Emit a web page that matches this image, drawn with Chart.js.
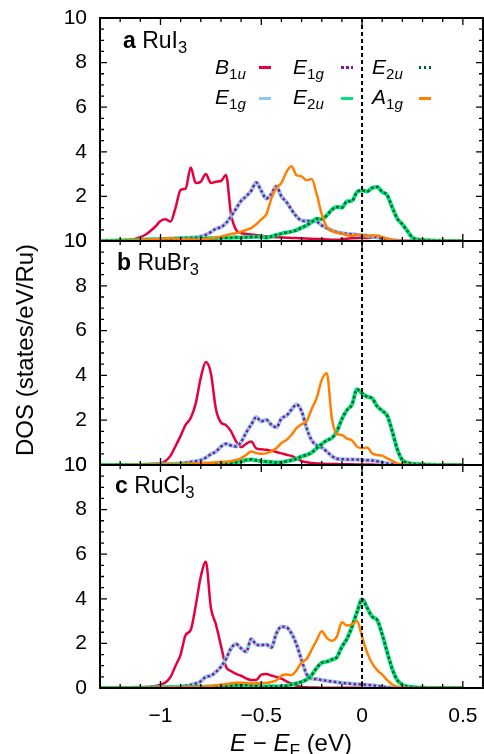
<!DOCTYPE html>
<html lang="en">
<head>
<meta charset="UTF-8">
<title>DOS – RuI3, RuBr3, RuCl3</title>
<style>
  body { margin: 0; background: #fff; font-family: 'Liberation Sans', Arial, sans-serif; }
  #wrap { position: relative; width: 484px; height: 754px; overflow: hidden; }
  canvas { position: absolute; left: 0; }
  .txt { position: absolute; white-space: nowrap; line-height: 1; color: #000; }
  .lab { font-size: 23px; }
  .key { font-size: 21px; }
  .title { font-size: 24px; }
  sub { font-size: 0.72em; position: relative; top: 0.3em; vertical-align: baseline; line-height: 0; }
  .sw { position: absolute; width: 12px; height: 3px; }
</style>
</head>
<body>
<div id="wrap">
  <canvas id="pa" width="484" height="283" style="top:-12px"></canvas>
  <canvas id="pb" width="484" height="284" style="top:211px"></canvas>
  <canvas id="pc" width="484" height="319" style="top:435px"></canvas>

  <div class="txt lab" style="left:123px; top:29px"><b>a</b> RuI<sub>3</sub></div>
  <div class="txt lab" style="left:117px; top:251px"><b>b</b> RuBr<sub>3</sub></div>
  <div class="txt lab" style="left:115px; top:474px"><b>c</b> RuCl<sub>3</sub></div>

  <!-- legend -->
  <div class="txt key" style="left:215px; top:56px"><i>B</i><sub>1<i>u</i></sub></div>
  <div class="sw" style="left:259px; top:66px; background:#e6003e"></div>
  <div class="txt key" style="left:293px; top:56px"><i>E</i><sub>1<i>g</i></sub></div>
  <div class="sw" style="left:341px; top:66px; background:repeating-linear-gradient(90deg,#86198f 0 2.5px,transparent 2.5px 5px)"></div>
  <div class="txt key" style="left:372px; top:56px"><i>E</i><sub>2<i>u</i></sub></div>
  <div class="sw" style="left:419px; top:66px; background:repeating-linear-gradient(90deg,#00602c 0 2.5px,transparent 2.5px 5px)"></div>
  <div class="txt key" style="left:215px; top:86px"><i>E</i><sub>1<i>g</i></sub></div>
  <div class="sw" style="left:259px; top:97px; background:#8fc8ee"></div>
  <div class="txt key" style="left:293px; top:86px"><i>E</i><sub>2<i>u</i></sub></div>
  <div class="sw" style="left:341px; top:97px; background:#00e27a"></div>
  <div class="txt key" style="left:372px; top:86px"><i>A</i><sub>1<i>g</i></sub></div>
  <div class="sw" style="left:419px; top:97px; background:#ff8000"></div>

  <div class="txt title" style="left:25px; top:350px; transform:translate(-50%,-50%) rotate(-90deg)">DOS (states/eV/Ru)</div>
  <div class="txt title" style="left:291px; top:731px; transform:translateX(-50%)"><i>E</i> − <i>E</i><sub>F</sub> (eV)</div>
</div>

<script src="https://cdn.jsdelivr.net/npm/chart.js"></script>
<script>
  // energy grid (eV, relative to E_F)
  const energy = [
    -1.3, -1.275, -1.25, -1.225, -1.2, -1.175, -1.15, -1.125, -1.1, -1.075,
    -1.05, -1.025, -1.0, -0.975, -0.95, -0.925, -0.9, -0.875, -0.85, -0.825,
    -0.8, -0.775, -0.75, -0.725, -0.7, -0.675, -0.65, -0.625, -0.6, -0.575,
    -0.55, -0.525, -0.5, -0.475, -0.45, -0.425, -0.4, -0.375, -0.35, -0.325,
    -0.3, -0.275, -0.25, -0.225, -0.2, -0.175, -0.15, -0.125, -0.1, -0.075,
    -0.05, -0.025, 0, 0.025, 0.05, 0.075, 0.1, 0.125, 0.15, 0.175,
    0.2, 0.225, 0.25, 0.275, 0.3, 0.325, 0.35, 0.375, 0.4, 0.425,
    0.45, 0.475, 0.5
  ];

  // RuI3
  const ruI3_B1u = [
    0, 0, 0, 0, 0.01, 0.02, 0.04, 0.1, 0.17, 0.28,
    0.45, 0.65, 0.9, 0.97, 0.87, 1.5, 2.29, 2.35, 3.3, 2.6,
    2.66, 3.0, 2.6, 2.66, 2.69, 2.96, 1.2, 0.5, 0.36, 0.32,
    0.29, 0.27, 0.24, 0.21, 0.19, 0.17, 0.16, 0.15, 0.14, 0.13,
    0.12, 0.11, 0.1, 0.09, 0.08, 0.07, 0.06, 0.06, 0.08, 0.1,
    0.12, 0.13, 0.13, 0.14, 0.15, 0.15, 0.13, 0.1, 0.06, 0.04,
    0.02, 0.01, 0, 0, 0, 0, 0, 0, 0, 0,
    0, 0, 0
  ];
  const ruI3_E1g = [
    0, 0, 0, 0, 0.01, 0.02, 0.03, 0.04, 0.05, 0.06,
    0.07, 0.08, 0.09, 0.1, 0.11, 0.12, 0.13, 0.14, 0.15, 0.16,
    0.2, 0.28, 0.4, 0.55, 0.62, 0.8, 1.1, 1.45, 1.8, 2.0,
    2.25, 2.62, 2.25, 1.9, 2.1, 2.45, 2.0, 1.75, 1.4, 1.1,
    0.92, 0.9, 0.9, 0.87, 0.7, 0.58, 0.47, 0.4, 0.35, 0.32,
    0.3, 0.28, 0.26, 0.24, 0.2, 0.16, 0.1, 0.05, 0.02, 0.01,
    0, 0, 0, 0, 0, 0, 0, 0, 0, 0,
    0, 0, 0
  ];
  const ruI3_E2u = [
    0, 0.01, 0.01, 0.02, 0.02, 0.03, 0.04, 0.05, 0.06, 0.06,
    0.07, 0.07, 0.07, 0.08, 0.09, 0.1, 0.1, 0.1, 0.1, 0.11,
    0.11, 0.12, 0.12, 0.13, 0.14, 0.15, 0.15, 0.16, 0.16, 0.17,
    0.18, 0.19, 0.18, 0.15, 0.2, 0.27, 0.33, 0.38, 0.42, 0.49,
    0.6, 0.7, 0.85, 1.0, 0.98, 1.15, 1.4, 1.52, 1.5, 1.78,
    1.8, 2.2, 2.27, 2.22, 2.38, 2.42, 2.2, 2.05, 1.5, 1.0,
    0.75, 0.45, 0.15, 0.07, 0.04, 0.03, 0.02, 0.01, 0.01, 0,
    0, 0, 0
  ];
  const ruI3_A1g = [
    0, 0, 0, 0.01, 0.01, 0.02, 0.03, 0.04, 0.05, 0.06,
    0.07, 0.08, 0.09, 0.11, 0.12, 0.11, 0.09, 0.08, 0.07, 0.07,
    0.08, 0.1, 0.12, 0.15, 0.2, 0.25, 0.32, 0.35, 0.42, 0.5,
    0.58, 0.75, 0.97, 1.2, 1.9, 2.38, 2.6, 3.1, 3.35, 2.95,
    2.9, 2.72, 2.78, 2.1, 1.2, 0.62, 0.45, 0.38, 0.33, 0.27,
    0.23, 0.28, 0.27, 0.22, 0.25, 0.25, 0.18, 0.1, 0.05, 0.02,
    0.01, 0, 0, 0, 0, 0, 0, 0, 0, 0,
    0, 0, 0
  ];

  // RuBr3
  const ruBr3_B1u = [
    0, 0, 0, 0, 0.01, 0.01, 0.01, 0.02, 0.02, 0.03,
    0.04, 0.06, 0.08, 0.18, 0.42, 0.85, 1.3, 1.8, 2.1, 2.75,
    3.9, 4.6, 4.1, 2.5, 1.9, 1.78, 1.5, 1.05, 0.8, 0.95,
    1.05, 0.74, 0.7, 0.68, 0.64, 0.58, 0.52, 0.46, 0.4, 0.3,
    0.18, 0.12, 0.09, 0.07, 0.06, 0.05, 0.04, 0.04, 0.03, 0.03,
    0.03, 0.02, 0.02, 0.02, 0.02, 0.01, 0.01, 0, 0, 0,
    0, 0, 0, 0, 0, 0, 0, 0, 0, 0,
    0, 0, 0
  ];
  const ruBr3_E1g = [
    0, 0, 0, 0, 0, 0, 0, 0, 0.01, 0.01,
    0.01, 0.02, 0.02, 0.03, 0.04, 0.05, 0.07, 0.1, 0.13, 0.17,
    0.22, 0.33, 0.48, 0.6, 0.82, 0.95, 0.87, 0.83, 1.02, 1.45,
    1.8, 2.14, 1.95, 2.02, 1.8, 1.68, 2.08, 2.2, 2.47, 2.7,
    2.4, 1.65, 1.1, 0.88, 0.78, 0.6, 0.4, 0.28, 0.26, 0.25,
    0.25, 0.24, 0.22, 0.21, 0.2, 0.17, 0.12, 0.07, 0.04, 0.02,
    0.01, 0, 0, 0, 0, 0, 0, 0, 0, 0,
    0, 0, 0
  ];
  const ruBr3_E2u = [
    0, 0, 0, 0, 0, 0, 0, 0, 0, 0.01,
    0.01, 0.01, 0.02, 0.02, 0.02, 0.03, 0.03, 0.04, 0.04, 0.05,
    0.05, 0.06, 0.06, 0.07, 0.07, 0.08, 0.09, 0.12, 0.16, 0.22,
    0.25, 0.21, 0.17, 0.15, 0.13, 0.11, 0.12, 0.17, 0.21, 0.28,
    0.38, 0.45, 0.55, 0.75, 0.93, 1.1, 1.2, 1.5, 2.05, 2.45,
    2.7, 3.38, 3.2, 3.05, 2.98, 2.62, 2.42, 2.2, 1.5, 0.7,
    0.22, 0.1, 0.06, 0.04, 0.03, 0.02, 0.01, 0, 0, 0,
    0, 0, 0
  ];
  const ruBr3_A1g = [
    0, 0, 0, 0, 0, 0, 0.01, 0.01, 0.01, 0.01,
    0.02, 0.02, 0.02, 0.03, 0.03, 0.03, 0.04, 0.05, 0.06, 0.07,
    0.08, 0.09, 0.1, 0.12, 0.14, 0.15, 0.17, 0.22, 0.3, 0.45,
    0.6, 0.54, 0.5, 0.52, 0.62, 0.75, 0.98, 1.12, 1.35, 1.65,
    1.82, 1.95, 2.5, 3.0, 3.8, 4.1, 2.1, 1.4, 1.34, 1.18,
    1.1, 0.82, 0.75, 0.78, 0.52, 0.45, 0.42, 0.3, 0.18, 0.07,
    0.03, 0.01, 0, 0, 0, 0, 0, 0, 0, 0,
    0, 0, 0
  ];

  // RuCl3
  const ruCl3_B1u = [
    0, 0, 0, 0, 0.01, 0.01, 0.02, 0.02, 0.03, 0.04,
    0.06, 0.09, 0.15, 0.25, 0.5, 1.0, 1.5, 2.38, 2.6, 3.7,
    5.0, 5.66, 3.6, 2.85, 1.9, 0.95, 0.76, 0.63, 0.55, 0.43,
    0.36, 0.36, 0.6, 0.63, 0.56, 0.5, 0.42, 0.3, 0.2, 0.1,
    0.05, 0.03, 0.02, 0.02, 0.01, 0.01, 0.01, 0.01, 0.01, 0.01,
    0.01, 0.01, 0.01, 0.01, 0.01, 0, 0, 0, 0, 0,
    0, 0, 0, 0, 0, 0, 0, 0, 0, 0,
    0, 0, 0
  ];
  const ruCl3_E1g = [
    0, 0, 0, 0, 0, 0, 0, 0, 0.01, 0.01,
    0.01, 0.02, 0.02, 0.03, 0.04, 0.05, 0.07, 0.1, 0.14, 0.2,
    0.3, 0.5, 0.55, 0.72, 0.95, 1.3, 1.78, 1.97, 1.78, 1.62,
    2.2, 1.95, 1.92, 1.95, 1.82, 2.45, 2.75, 2.72, 2.45, 1.95,
    1.25, 0.62, 0.42, 0.4, 0.36, 0.32, 0.29, 0.26, 0.23, 0.21,
    0.19, 0.17, 0.16, 0.14, 0.12, 0.09, 0.06, 0.03, 0.01, 0,
    0, 0, 0, 0, 0, 0, 0, 0, 0, 0,
    0, 0, 0
  ];
  const ruCl3_E2u = [
    0, 0, 0, 0, 0, 0, 0, 0.01, 0.01, 0.01,
    0.02, 0.02, 0.02, 0.03, 0.03, 0.03, 0.04, 0.04, 0.05, 0.05,
    0.06, 0.06, 0.07, 0.07, 0.08, 0.09, 0.1, 0.12, 0.13, 0.13,
    0.12, 0.1, 0.08, 0.07, 0.08, 0.07, 0.07, 0.1, 0.15, 0.2,
    0.28, 0.38, 0.58, 0.9, 1.13, 1.18, 1.27, 1.38, 1.85, 2.2,
    2.75, 3.4, 3.98, 3.6, 3.2, 3.05, 2.4, 1.6, 0.85, 0.35,
    0.15, 0.07, 0.04, 0.02, 0.01, 0, 0, 0, 0, 0,
    0, 0, 0
  ];
  const ruCl3_A1g = [
    0, 0, 0, 0, 0, 0, 0, 0, 0, 0.01,
    0.01, 0.01, 0.02, 0.02, 0.03, 0.03, 0.04, 0.04, 0.05, 0.05,
    0.06, 0.07, 0.09, 0.12, 0.15, 0.18, 0.21, 0.23, 0.24, 0.22,
    0.2, 0.21, 0.22, 0.23, 0.27, 0.35, 0.55, 0.6, 0.58, 0.8,
    1.15, 1.3, 1.72, 2.15, 2.55, 2.25, 2.12, 2.3, 2.95, 2.8,
    2.85, 3.0, 2.3, 1.6, 1.1, 0.8, 0.6, 0.35, 0.15, 0.06,
    0.03, 0.01, 0, 0, 0, 0, 0, 0, 0, 0,
    0, 0, 0
  ];

  // axis ticks
  const xTickValues = [-1, -0.5, 0, 0.5];
  const xTickLabels = ['−1', '−0.5', '0', '0.5'];
  const yTickValues = [0, 2, 4, 6, 8, 10];
  const yTickLabels = ['0', '2', '4', '6', '8', '10'];

  const tickFont = { family: "'Liberation Sans', Arial, sans-serif", size: 21 };

  function pts(values) {
    return energy.map((e, i) => ({ x: e, y: values[i] }));
  }

  function series(label, values, color, width, dash, order) {
    return {
      label, data: pts(values), borderColor: color, borderWidth: width,
      borderDash: dash || [], borderCapStyle: 'butt', pointRadius: 0,
      fill: false, cubicInterpolationMode: 'monotone', order
    };
  }

  // frame, inward ticks, Fermi level
  const framePlugin = {
    id: 'frame',
    afterDatasetsDraw(chart) {
      const { ctx, chartArea: a, scales: { x, y } } = chart;
      ctx.save();
      ctx.strokeStyle = '#000';

      const x0 = x.getPixelForValue(0);
      ctx.lineWidth = 2;
      ctx.setLineDash([4, 3]);
      ctx.beginPath(); ctx.moveTo(x0, a.top); ctx.lineTo(x0, a.bottom); ctx.stroke();
      ctx.setLineDash([]);

      ctx.lineWidth = 1.3;
      ctx.beginPath();
      for (let k = -12; k <= 5; k++) {
        const px = x.getPixelForValue(k / 10);
        const len = k % 5 === 0 ? 7 : 4;
        ctx.moveTo(px, a.bottom); ctx.lineTo(px, a.bottom - len);
        ctx.moveTo(px, a.top); ctx.lineTo(px, a.top + len);
      }
      for (let k = 1; k < 20; k++) {
        const py = y.getPixelForValue(k / 2);
        const len = k % 4 === 0 ? 7 : 4;
        ctx.moveTo(a.left, py); ctx.lineTo(a.left + len, py);
        ctx.moveTo(a.right, py); ctx.lineTo(a.right - len, py);
      }
      ctx.stroke();

      ctx.lineWidth = 2;
      ctx.strokeRect(a.left, a.top, a.right - a.left, a.bottom - a.top);
      ctx.restore();
    }
  };

  function makePanel(id, b1u, e1g, e2u, a1g, padding, showX) {
    new Chart(document.getElementById(id), {
      type: 'line',
      data: {
        datasets: [
          series('B1u', b1u, '#e6003e', 2.5, null, 6),
          series('E1g', e1g, '#8fc8ee', 4, null, 5),
          series('E1g', e1g, '#86198f', 2.5, [2.5, 2.5], 4),
          series('E2u', e2u, '#00e27a', 4, null, 3),
          series('E2u', e2u, '#00602c', 2.5, [2.5, 2.5], 2),
          series('A1g', a1g, '#ff8000', 2.5, null, 1)
        ]
      },
      options: {
        responsive: false,
        animation: false,
        layout: { padding },
        plugins: { legend: { display: false }, tooltip: { enabled: false } },
        scales: {
          x: {
            type: 'linear', min: -1.3, max: 0.6, display: showX,
            grid: { display: false, drawTicks: false },
            border: { display: false },
            afterBuildTicks: s => { s.ticks = xTickValues.map(v => ({ value: v })); },
            afterFit: s => {
              s.height = showX ? 66 : 0;
              s.paddingLeft = 0;
              s.paddingRight = 0;
            },
            ticks: {
              color: '#000', font: tickFont, padding: 16, maxRotation: 0,
              callback: v => xTickLabels[xTickValues.indexOf(v)]
            }
          },
          y: {
            min: 0, max: 10,
            grid: { display: false, drawTicks: false },
            border: { display: false },
            afterBuildTicks: s => { s.ticks = yTickValues.map(v => ({ value: v })); },
            afterFit: s => { s.width = 100; },
            ticks: {
              color: '#000', font: tickFont, padding: 13,
              callback: v => yTickLabels[yTickValues.indexOf(v)]
            }
          }
        }
      },
      plugins: [framePlugin]
    });
  }

  // chart areas: a 18–241, b 241–465, c 465–688 (page pixels)
  makePanel('pa', ruI3_B1u, ruI3_E1g, ruI3_E2u, ruI3_A1g, { top: 30, bottom: 30, left: 0, right: 1 }, false);
  makePanel('pb', ruBr3_B1u, ruBr3_E1g, ruBr3_E2u, ruBr3_A1g, { top: 30, bottom: 30, left: 0, right: 1 }, false);
  makePanel('pc', ruCl3_B1u, ruCl3_E1g, ruCl3_E2u, ruCl3_A1g, { top: 30, bottom: 0, left: 0, right: 1 }, true);
</script>
</body>
</html>
